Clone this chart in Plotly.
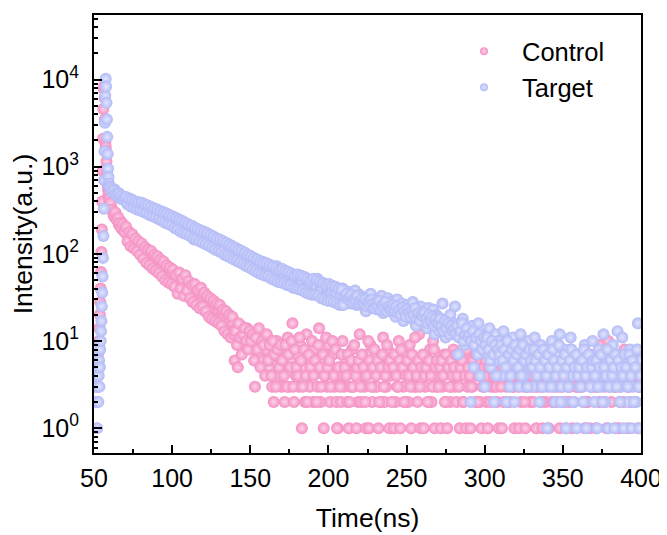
import numpy as np
import plotly.graph_objects as go

# ---------------- data ----------------
# time channels (ns): fine channels around the excitation pulse, then
# whole-ns channels and half-ns channels for the decay
t_head = np.arange(50, 60, 0.25)        # 40 channels
t_tail = np.arange(60, 401, 1.0)        # 341 channels (60, 61, ... 400)
t_mid = np.arange(60.5, 400, 1.0)       # 340 channels (60.5, ... 399.5)

control_head = [8, 9, 6, 7, 5, 8, 4, 6, 9, 5,
                7, 6, 8, 10, 14, 20, 28, 40, 62, 105,
                190, 400, 900, 2100, 4600, 7800, 8500, 6200, 3500, 1900,
                1700, 1500, 1150, 880, 700, 610, 540, 480, 440, 410]

control_tail = [
    430, 350, 310, 265, 290, 240, 215, 238, 192, 205,   # 60
    175, 182, 142, 128, 161, 152, 124, 141, 108, 131,   # 70
    116, 121, 94, 89, 103, 80, 99, 95, 76, 70,          # 80
    84, 66, 79, 75, 58, 54, 68, 61, 49, 63,             # 90
    60, 44, 55, 52, 40, 37, 48, 43, 33, 46,             # 100
    41, 43, 31, 28, 37, 35, 26, 32, 24, 34,             # 110
    29, 22, 31, 27, 20, 18, 26, 23, 17, 24,             # 120
    22, 16, 21, 19, 14, 18, 13, 17, 12, 16,             # 130
    6, 14, 5, 12, 15, 10, 13, 9, 14, 11,                # 140
    12, 8, 10, 3, 9, 13, 7, 11, 6, 9,                   # 150
    8, 11, 5, 9, 3, 2, 7, 10, 4, 6,                     # 160
    3, 8, 2, 5, 11, 3, 6, 16, 2, 4,                     # 170
    7, 3, 9, 1, 5, 2, 12, 4, 3, 6,                      # 180
    2, 8, 5, 3, 14, 2, 6, 1, 4, 3,                      # 190
    9, 2, 5, 7, 3, 2, 1, 4, 2, 10,                      # 200
    3, 6, 2, 1, 3, 8, 3, 5, 1, 2,                       # 210
    12, 2, 4, 3, 1, 7, 1, 9, 2, 3,                      # 220
    5, 3, 1, 6, 2, 11, 2, 3, 8, 1,                      # 230
    4, 5, 1, 2, 3, 10, 1, 6, 3, 2,                      # 240
    7, 2, 9, 1, 4, 3, 3, 2, 12, 1,                      # 250
    5, 1, 3, 6, 2, 8, 2, 10, 1, 3,                      # 260
    4, 4, 1, 3, 7, 2, 1, 5, 2, 3,                       # 270
    8, 3, 2, 6, 1, 4, 2, 7, 1, 3,                       # 280
    5, 1, 3, 9, 2, 4, 5, 2, 1, 6,                       # 290
    3, 2, 1, 4, 3, 7, 3, 5, 2, 1,                       # 300
    6, 1, 2, 8, 3, 4, 2, 6, 3, 1,                       # 310
    5, 4, 1, 2, 7, 3, 1, 3, 5, 2,                       # 320
    6, 2, 8, 1, 3, 4, 3, 1, 6, 2,                       # 330
    5, 1, 4, 2, 7, 3, 2, 3, 1, 5,                       # 340
    6, 5, 1, 3, 2, 8, 1, 2, 4, 3,                       # 350
    6, 3, 7, 2, 1, 4, 2, 1, 5, 3,                       # 360
    6, 1, 3, 2, 9, 4, 4, 2, 1, 10,                      # 370
    3, 2, 6, 3, 1, 5, 1, 3, 7, 2,                       # 380
    4, 3, 1, 2, 6, 5, 2, 4, 1, 3,                       # 390
    7]                                                  # 400

control_mid = [
    385, 320, 282, 301, 248, 262, 228, 199, 221, 180,   # 60.5
    205, 140, 178, 122, 168, 115, 150, 108, 140, 98,    # 70.5
    132, 88, 120, 79, 112, 74, 108, 68, 98, 64,         # 80.5
    94, 60, 86, 55, 82, 50, 74, 47, 70, 45,             # 90.5
    66, 42, 58, 35, 61, 40, 52, 33, 57, 38,             # 100.5
    49, 31, 44, 28, 45, 26, 39, 24, 41, 25,             # 110.5
    36, 22, 33, 19, 31, 18, 29, 17, 27, 16,             # 120.5
    26, 15, 23, 13, 22, 12, 20, 11, 19, 12,             # 130.5
    13, 9, 16, 11, 7, 12, 14, 10, 8, 13,                # 140.5
    10, 12, 6, 11, 8, 14, 5, 10, 9, 4,                  # 150.5
    12, 6, 9, 4, 10, 7, 3, 8, 5, 9,                     # 160.5
    6, 4, 9, 3, 7, 5, 10, 3, 8, 5,                      # 170.5
    4, 11, 6, 3, 8, 4, 2, 7, 5, 10,                     # 180.5
    4, 6, 2, 9, 5, 3, 7, 4, 11, 5,                      # 190.5
    6, 3, 10, 4, 8, 1, 5, 3, 7, 4,                      # 200.5
    5, 4, 7, 2, 6, 3, 9, 4, 5, 6,                       # 210.5
    3, 7, 5, 2, 4, 10, 6, 3, 5, 8,                      # 220.5
    4, 6, 2, 5, 7, 3, 4, 9, 5, 6,                       # 230.5
    2, 5, 7, 4, 3, 6, 8, 5, 2, 4,                       # 240.5
    6, 4, 3, 7, 5, 11, 4, 6, 3, 5,                      # 250.5
    7, 4, 5, 2, 6, 4, 3, 8, 5, 6,                       # 260.5
    3, 5, 6, 4, 2, 7, 5, 3, 6, 4,                       # 270.5
    5, 7, 4, 3, 5, 6, 2, 4, 8, 5,                       # 280.5
    4, 3, 6, 5, 7, 2, 4, 6, 3, 5,                       # 290.5
    6, 4, 5, 2, 6, 4, 7, 3, 5, 4,                       # 300.5
    3, 5, 7, 4, 2, 6, 5, 4, 3, 6,                       # 310.5
    7, 3, 4, 6, 5, 2, 4, 6, 8, 3,                       # 320.5
    4, 5, 3, 6, 4, 7, 2, 5, 4, 6,                       # 330.5
    3, 6, 5, 4, 2, 5, 7, 4, 6, 3,                       # 340.5
    4, 2, 6, 5, 3, 4, 7, 5, 3, 6,                       # 350.5
    5, 4, 3, 6, 5, 2, 4, 7, 6, 4,                       # 360.5
    3, 5, 4, 6, 2, 5, 3, 4, 7, 5,                       # 370.5
    6, 4, 5, 3, 4, 6, 2, 5, 4, 8,                       # 380.5
    4, 6, 3, 5, 4, 2, 6, 5, 3, 4]                       # 390.5

target_head = [4, 6, 3, 5, 8, 2, 4, 3, 1, 5,
               3, 2, 4, 6, 3, 5, 8, 10, 13, 17,
               25, 36, 55, 90, 160, 330, 700, 1500, 3200, 6500,
               10200, 8300, 5400, 3500, 2200, 1400, 950, 760, 640, 590]

target_tail = [
    590, 540, 505, 552, 478, 463, 497, 430, 455, 418,   # 60
    445, 392, 371, 428, 410, 350, 398, 338, 382, 360,   # 70
    368, 318, 335, 352, 298, 340, 290, 276, 330, 268,   # 80
    315, 262, 300, 245, 288, 270, 236, 228, 280, 218,   # 90
    262, 210, 198, 248, 240, 190, 229, 205, 182, 218,   # 100
    212, 168, 203, 160, 146, 195, 186, 152, 178, 140,   # 110
    172, 136, 128, 165, 158, 124, 117, 152, 146, 112,   # 120
    140, 108, 134, 129, 102, 97, 123, 118, 93, 89,      # 130
    114, 86, 82, 109, 104, 78, 100, 75, 96, 72,         # 140
    88, 71, 79, 64, 85, 69, 74, 60, 81, 66,             # 150
    73, 58, 70, 62, 54, 67, 61, 72, 52, 63,             # 160
    64, 50, 59, 47, 61, 55, 44, 58, 49, 53,             # 170
    56, 43, 51, 46, 39, 54, 45, 48, 41, 50,             # 180
    47, 38, 44, 52, 35, 42, 39, 46, 33, 41,             # 190
    44, 34, 39, 30, 41, 36, 28, 38, 33, 40,             # 200
    36, 29, 37, 31, 27, 35, 30, 38, 26, 33,             # 210
    34, 26, 31, 28, 22, 32, 27, 35, 24, 29,             # 220
    30, 23, 28, 25, 33, 21, 27, 24, 31, 22,             # 230
    28, 22, 26, 19, 30, 24, 21, 27, 17, 25,             # 240
    26, 20, 24, 18, 28, 22, 15, 23, 19, 25,             # 250
    22, 17, 21, 14, 24, 19, 16, 23, 12, 20,             # 260
    19, 13, 18, 27, 15, 11, 17, 14, 20, 12,             # 270
    16, 25, 13, 7, 15, 11, 18, 9, 14, 12,               # 280
    13, 2, 15, 5, 11, 8, 16, 4, 10, 12,                 # 290
    3, 11, 7, 14, 5, 9, 2, 12, 6, 10,                   # 300
    8, 4, 13, 6, 2, 10, 3, 7, 11, 2,                    # 310
    5, 9, 3, 12, 6, 4, 8, 3, 10, 5,                     # 320
    7, 3, 11, 4, 6, 2, 9, 5, 3, 8,                      # 330
    1, 6, 4, 10, 3, 2, 7, 5, 12, 3,                     # 340
    2, 8, 1, 5, 3, 11, 4, 2, 6, 1,                      # 350
    7, 3, 5, 2, 9, 1, 4, 6, 3, 10,                      # 360
    2, 5, 1, 8, 3, 4, 12, 2, 6, 1,                      # 370
    5, 3, 9, 1, 4, 13, 7, 3, 11, 1,                     # 380
    4, 6, 2, 8, 1, 3, 5, 2, 16, 1,                      # 390
    6]                                                  # 400

target_mid = [
    560, 520, 530, 488, 470, 485, 446, 462, 425, 440,   # 60.5
    450, 372, 430, 350, 415, 338, 400, 322, 390, 315,   # 70.5
    385, 305, 372, 292, 360, 280, 345, 270, 332, 262,   # 80.5
    322, 250, 310, 240, 300, 228, 290, 220, 278, 212,   # 90.5
    268, 200, 258, 190, 248, 180, 238, 172, 228, 168,   # 100.5
    218, 160, 210, 152, 200, 146, 192, 140, 185, 134,   # 110.5
    180, 130, 172, 124, 165, 118, 158, 112, 150, 108,   # 120.5
    146, 104, 140, 98, 134, 94, 128, 90, 122, 86,       # 130.5
    118, 84, 112, 80, 108, 76, 103, 72, 98, 70,         # 140.5
    94, 66, 90, 63, 86, 60, 82, 58, 79, 56,             # 150.5
    78, 55, 75, 52, 72, 50, 69, 48, 66, 47,             # 160.5
    67, 46, 64, 44, 62, 43, 59, 41, 57, 40,             # 170.5
    58, 39, 56, 38, 54, 36, 52, 35, 50, 34,             # 180.5
    52, 34, 50, 33, 48, 31, 46, 30, 44, 29,             # 190.5
    45, 29, 43, 28, 42, 27, 40, 26, 39, 26,             # 200.5
    33, 35, 30, 32, 34, 28, 31, 29, 33, 27,             # 210.5
    29, 31, 27, 30, 25, 28, 26, 30, 27, 24,             # 220.5
    27, 25, 29, 23, 26, 24, 28, 22, 25, 23,             # 230.5
    24, 26, 22, 25, 21, 23, 20, 24, 22, 19,             # 240.5
    23, 21, 19, 22, 20, 24, 18, 21, 17, 20,             # 250.5
    19, 21, 18, 16, 20, 17, 19, 15, 18, 16,             # 260.5
    16, 18, 15, 13, 17, 14, 16, 12, 15, 13,             # 270.5
    14, 12, 15, 11, 13, 16, 10, 12, 14, 11,             # 280.5
    12, 10, 13, 9, 11, 7, 12, 10, 8, 11,                # 290.5
    9, 11, 8, 6, 10, 7, 9, 4, 8, 7,                     # 300.5
    9, 6, 8, 5, 10, 7, 4, 8, 6, 9,                      # 310.5
    7, 5, 8, 4, 9, 6, 7, 3, 8, 6,                       # 320.5
    5, 8, 6, 4, 7, 5, 3, 8, 6, 4,                       # 330.5
    7, 5, 3, 8, 6, 4, 5, 9, 2, 6,                       # 340.5
    4, 7, 5, 3, 6, 8, 2, 5, 7, 4,                       # 350.5
    5, 3, 6, 8, 4, 5, 7, 3, 5, 6,                       # 360.5
    4, 6, 3, 5, 7, 2, 5, 4, 8, 3,                       # 370.5
    6, 4, 5, 7, 3, 6, 2, 5, 4, 7,                       # 380.5
    5, 3, 7, 4, 6, 2, 5, 8, 3, 4]                       # 390.5

series_names = ["Control", "Target"]
y_tick_vals = [1, 10, 100, 1000, 10000]
y_tick_text = ["10<sup>0</sup>", "10<sup>1</sup>", "10<sup>2</sup>", "10<sup>3</sup>", "10<sup>4</sup>"]
x_tick_vals = [50, 100, 150, 200, 250, 300, 350, 400]

# ---------------- figure ----------------
time = np.concatenate([t_head, t_tail, t_mid])
control = np.array(control_head + control_tail + control_mid, dtype=float)
target = np.array(target_head + target_tail + target_mid, dtype=float)
assert len(time) == len(control) == len(target)

PINK = "#F490C3"
PINK_HI = "#FCD2E7"
BLUE = "#B2BAF6"
BLUE_HI = "#E2E5FD"
FONT = "Arial, Liberation Sans, sans-serif"

fig = go.Figure()
for name, vals, col, hi in [(series_names[0], control, PINK, PINK_HI),
                            (series_names[1], target, BLUE, BLUE_HI)]:
    fig.add_trace(go.Scatter(
        x=time, y=vals, mode="markers", name=name, showlegend=False,
        marker=dict(size=12, color=col, line=dict(width=0),
                    gradient=dict(type="radial", color=hi)),
    ))
# legend entries (smaller symbols like the reference)
for name, col, hi in [(series_names[0], PINK, PINK_HI), (series_names[1], BLUE, BLUE_HI)]:
    fig.add_trace(go.Scatter(
        x=[None], y=[None], mode="markers", name=name,
        marker=dict(size=8, color=col, line=dict(width=0),
                    gradient=dict(type="radial", color=hi)),
    ))

minor_y = [k * 10.0 ** d for d in range(-1, 5) for k in range(2, 10)]

# the page body adds an 8 px offset, so the figure is sized to fit the window
fig.update_layout(
    width=659, height=527,
    margin=dict(l=86, r=26, t=7, b=82),
    paper_bgcolor="white", plot_bgcolor="white",
    font=dict(family=FONT, size=25, color="black"),
    legend=dict(x=0.6435, y=0.970, xanchor="left", yanchor="top",
                bgcolor="rgba(0,0,0,0)", font=dict(size=25.5),
                itemwidth=66, tracegroupgap=0),
    xaxis=dict(
        range=[50, 400], tickmode="array", tickvals=x_tick_vals,
        ticks="inside", ticklen=8, tickwidth=2, tickcolor="black",
        minor=dict(tickmode="array", tickvals=[75, 125, 175, 225, 275, 325, 375],
                   ticks="inside", ticklen=4, tickwidth=2, tickcolor="black"),
        showline=True, linewidth=2, linecolor="black", mirror=True,
        showgrid=False, zeroline=False, automargin=False,
        tickfont=dict(size=25), ticklabelstandoff=2,
        title=dict(text="Time(ns)", font=dict(size=26.5), standoff=17),
    ),
    yaxis=dict(
        type="log", range=[np.log10(0.52), np.log10(55000)],
        tickmode="array", tickvals=y_tick_vals, ticktext=y_tick_text,
        ticks="inside", ticklen=8, tickwidth=2, tickcolor="black",
        minor=dict(tickmode="array", tickvals=minor_y,
                   ticks="inside", ticklen=4, tickwidth=2, tickcolor="black"),
        showline=True, linewidth=2, linecolor="black", mirror=True,
        showgrid=False, zeroline=False, automargin=False,
        tickfont=dict(size=25), ticklabelstandoff=8,
        title=dict(text="Intensity(a.u.)", font=dict(size=26.5), standoff=1),
    ),
)

fig.write_html("out.html")
